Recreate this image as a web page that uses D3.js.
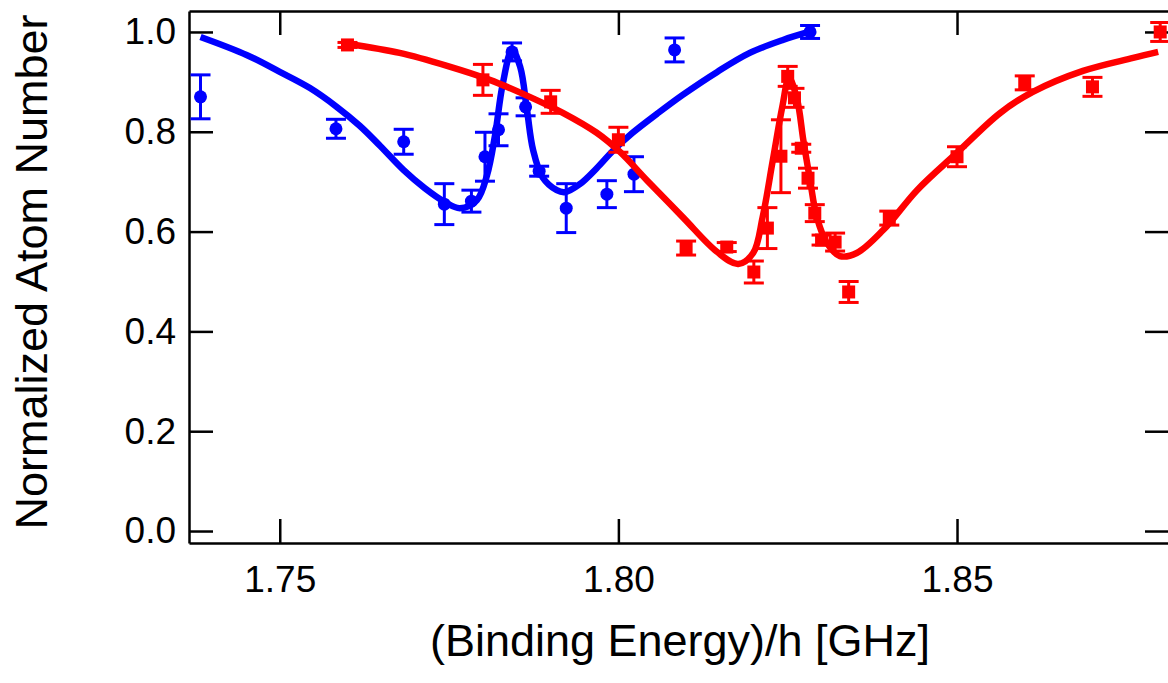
<!DOCTYPE html>
<html>
<head>
<meta charset="utf-8">
<script src="https://cdn.jsdelivr.net/npm/d3@7"></script>
<style>
  html, body { margin: 0; padding: 0; background: #fff; }
  svg { display: block; font-family: "Liberation Sans", Arial, Helvetica, sans-serif; }
</style>
</head>
<body>
<svg id="chart" width="1168" height="683"></svg>
<script>
// Measured atom-loss spectra: blue (circles) and red (squares) data sets
const blueX   = [1.7383, 1.7583, 1.7683, 1.7743, 1.7783, 1.7803, 1.7823, 1.7843, 1.7863, 1.7883, 1.7923, 1.7983, 1.8023, 1.8083, 1.8283];
const blueY   = [0.870, 0.806, 0.780, 0.655, 0.661, 0.750, 0.804, 0.960, 0.850, 0.721, 0.647, 0.675, 0.715, 0.964, 1.000];
const blueErr = [0.044, 0.019, 0.025, 0.041, 0.022, 0.049, 0.032, 0.018, 0.018, 0.010, 0.049, 0.027, 0.035, 0.024, 0.013];

const redX   = [1.760, 1.780, 1.790, 1.800, 1.810, 1.816, 1.820, 1.822, 1.824, 1.825, 1.826, 1.827, 1.828, 1.829, 1.830, 1.832, 1.834, 1.840, 1.850, 1.860, 1.870, 1.880];
const redY   = [0.974, 0.904, 0.860, 0.784, 0.567, 0.569, 0.519, 0.607, 0.751, 0.911, 0.868, 0.767, 0.707, 0.637, 0.583, 0.579, 0.479, 0.627, 0.750, 0.898, 0.890, 1.000];
const redErr = [0.005, 0.031, 0.023, 0.025, 0.014, 0.009, 0.022, 0.041, 0.073, 0.020, 0.019, 0.008, 0.020, 0.017, 0.010, 0.018, 0.021, 0.014, 0.020, 0.014, 0.019, 0.019];

// Fitted line shapes, sampled
const blueFitX = [1.7383, 1.7451, 1.7500, 1.7544, 1.7584, 1.7618, 1.7648, 1.7683, 1.7714, 1.7744, 1.7766, 1.7791, 1.7806, 1.7818, 1.7829, 1.7843, 1.7855, 1.7865, 1.7874, 1.7888, 1.7909, 1.7921, 1.7943, 1.7968, 1.7992, 1.8021, 1.8057, 1.8095, 1.8146, 1.8194, 1.8243, 1.8281];
const blueFitY = [0.990, 0.954, 0.920, 0.888, 0.850, 0.812, 0.772, 0.723, 0.687, 0.659, 0.647, 0.663, 0.713, 0.794, 0.894, 0.964, 0.930, 0.844, 0.764, 0.709, 0.683, 0.679, 0.695, 0.727, 0.762, 0.798, 0.836, 0.874, 0.920, 0.958, 0.984, 1.000];

const redFitX = [1.7602, 1.7677, 1.7747, 1.7810, 1.7869, 1.7918, 1.7968, 1.8002, 1.8042, 1.8095, 1.8146, 1.8177, 1.8199, 1.8213, 1.8228, 1.8242, 1.8252, 1.8264, 1.8273, 1.8283, 1.8293, 1.8308, 1.8327, 1.8352, 1.8391, 1.8441, 1.8500, 1.8564, 1.8612, 1.8686, 1.8760, 1.8797];
const redFitY = [0.976, 0.958, 0.932, 0.904, 0.870, 0.838, 0.798, 0.760, 0.703, 0.629, 0.559, 0.535, 0.557, 0.629, 0.743, 0.850, 0.908, 0.864, 0.784, 0.703, 0.629, 0.577, 0.551, 0.557, 0.603, 0.683, 0.758, 0.838, 0.880, 0.922, 0.948, 0.960];

// Axis ticks
const xTicks = [1.75, 1.80, 1.85];
const xTickLabels = ["1.75", "1.80", "1.85"];
const yTicks = [0.0, 0.2, 0.4, 0.6, 0.8, 1.0];
const yTickLabels = ["0.0", "0.2", "0.4", "0.6", "0.8", "1.0"];

const BLUE = "#0000ff", RED = "#ff0000";
const plotLeft = 189, plotRight = 1169, plotTop = 11, plotBottom = 543;

const svg = d3.select("#chart");
const x = d3.scaleLinear().domain([1.7366, 1.8813]).range([plotLeft, plotRight]);
const y = d3.scaleLinear().domain([-0.024, 1.042]).range([plotBottom, plotTop]);

// Axes: ticks point inward on all four sides
function styleAxis(g) {
  g.selectAll("path.domain").attr("stroke", "#000").attr("stroke-width", 2.5);
  g.selectAll(".tick line").attr("stroke", "#000").attr("stroke-width", 2.5);
  g.selectAll(".tick text").attr("fill", "#000").style("font-size", "37px")
    .style("font-family", "'Liberation Sans', Arial, sans-serif");
}
const xLabel = d => xTickLabels[xTicks.indexOf(d)];
const yLabel = d => yTickLabels[yTicks.indexOf(d)];

svg.append("g").attr("transform", `translate(0,${plotBottom})`)
  .call(d3.axisBottom(x).tickValues(xTicks).tickFormat(xLabel).tickSizeInner(-24).tickSizeOuter(0).tickPadding(23))
  .call(styleAxis);
svg.append("g").attr("transform", `translate(0,${plotTop})`)
  .call(d3.axisTop(x).tickValues(xTicks).tickFormat("").tickSizeInner(-24).tickSizeOuter(0))
  .call(styleAxis);
svg.append("g").attr("transform", `translate(${plotLeft},0)`)
  .call(d3.axisLeft(y).tickValues(yTicks).tickFormat(yLabel).tickSizeInner(-24).tickSizeOuter(0).tickPadding(13))
  .call(styleAxis);
svg.append("g").attr("transform", `translate(${plotRight},0)`)
  .call(d3.axisRight(y).tickValues(yTicks).tickFormat("").tickSizeInner(-24).tickSizeOuter(0))
  .call(styleAxis);

// Error bars with caps
function errorBars(xs, ys, es, color) {
  const g = svg.append("g").attr("stroke", color).attr("stroke-width", 3).attr("fill", "none");
  xs.forEach((xv, i) => {
    const cx = x(xv), y1 = y(ys[i] - es[i]), y2 = y(ys[i] + es[i]);
    g.append("line").attr("x1", cx).attr("x2", cx).attr("y1", y1).attr("y2", y2);
    g.append("line").attr("x1", cx - 10).attr("x2", cx + 10).attr("y1", y1).attr("y2", y1);
    g.append("line").attr("x1", cx - 10).attr("x2", cx + 10).attr("y1", y2).attr("y2", y2);
  });
}

const fitLine = d3.line().x(d => x(d[0])).y(d => y(d[1])).curve(d3.curveCatmullRom.alpha(0.5));
function fit(xs, ys, color) {
  svg.append("path").datum(xs.map((v, i) => [v, ys[i]]))
    .attr("d", fitLine).attr("fill", "none").attr("stroke", color)
    .attr("stroke-width", 6.5).attr("stroke-linejoin", "round").attr("stroke-linecap", "butt");
}

// Blue set
errorBars(blueX, blueY, blueErr, BLUE);
svg.append("g").selectAll("circle").data(blueX).join("circle")
  .attr("cx", d => x(d)).attr("cy", (d, i) => y(blueY[i])).attr("r", 6.5).attr("fill", BLUE);
fit(blueFitX, blueFitY, BLUE);

// Red set
errorBars(redX, redY, redErr, RED);
svg.append("g").selectAll("rect").data(redX).join("rect")
  .attr("x", d => x(d) - 6.5).attr("y", (d, i) => y(redY[i]) - 6.5)
  .attr("width", 13).attr("height", 13).attr("fill", RED);
fit(redFitX, redFitY, RED);

// Axis titles
svg.append("text").attr("x", 680).attr("y", 656).attr("text-anchor", "middle")
  .style("font-size", "45px").attr("fill", "#000").text("(Binding Energy)/h [GHz]");
svg.append("text").attr("transform", "translate(47,272) rotate(-90)").attr("text-anchor", "middle")
  .style("font-size", "45px").attr("fill", "#000").text("Normalized Atom Number");
</script>
</body>
</html>
